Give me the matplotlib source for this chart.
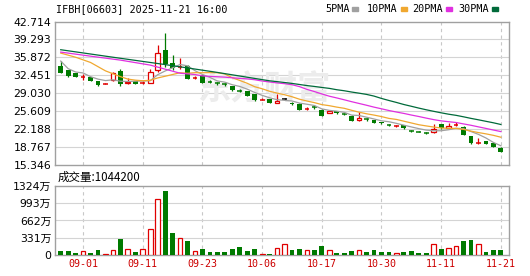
import numpy as np
import pandas as pd
import matplotlib
matplotlib.use('Agg')
import matplotlib.pyplot as plt

# trading days shown (60 sessions)
dates = ['08-27', '08-28', '08-29', '09-01', '09-02', '09-03', '09-04', '09-05', '09-08', '09-09',
         '09-10', '09-11', '09-12', '09-15', '09-16', '09-17', '09-18', '09-19', '09-22', '09-23',
         '09-24', '09-25', '09-26', '09-29', '09-30', '10-02', '10-03', '10-06', '10-08', '10-09',
         '10-10', '10-13', '10-14', '10-15', '10-16', '10-17', '10-20', '10-21', '10-22', '10-23',
         '10-24', '10-27', '10-28', '10-30', '10-31', '11-03', '11-04', '11-05', '11-06', '11-07',
         '11-10', '11-11', '11-12', '11-13', '11-14', '11-17', '11-18', '11-19', '11-20', '11-21']

opens = [34.16, 33.40, 32.88, 32.15, 32.12, 31.31, 30.80, 31.50, 33.21, 31.00,
         31.31, 30.95, 31.06, 33.53, 37.33, 34.86, 34.10, 34.16, 31.95, 32.45,
         31.20, 30.90, 30.70, 30.41, 29.50, 29.41, 28.84, 27.82, 27.88, 27.26,
         27.95, 27.20, 27.07, 26.05, 26.45, 25.93, 25.28, 25.66, 25.05, 24.71,
         23.89, 24.10, 23.89, 23.57, 23.00, 22.70, 22.94, 21.85, 21.72, 21.50,
         21.55, 23.07, 22.31, 23.00, 22.62, 20.85, 19.55, 19.90, 19.46, 18.63]
highs = [35.17, 33.55, 32.95, 32.64, 32.20, 31.40, 30.95, 33.08, 33.72, 31.99,
         31.40, 31.30, 33.59, 38.28, 40.49, 36.25, 35.81, 34.40, 32.30, 32.60,
         31.50, 31.20, 31.00, 30.50, 29.75, 29.50, 28.90, 28.10, 27.95, 28.90,
         28.20, 27.40, 27.10, 26.35, 26.70, 26.00, 25.75, 25.72, 25.25, 24.80,
         25.47, 24.35, 23.95, 23.62, 23.15, 22.90, 23.00, 22.10, 21.80, 21.70,
         23.20, 23.15, 23.40, 23.50, 22.70, 20.90, 20.40, 19.95, 19.50, 18.70]
lows = [32.80, 32.10, 32.05, 31.63, 31.35, 30.45, 30.75, 31.40, 30.49, 30.74,
        30.80, 30.85, 30.95, 33.08, 34.03, 33.40, 33.72, 31.70, 31.80, 30.90,
        30.90, 30.60, 30.45, 29.50, 29.25, 28.45, 27.60, 27.65, 27.20, 27.20,
        27.70, 26.80, 25.85, 25.90, 26.10, 24.60, 25.20, 25.10, 24.80, 23.70,
        23.80, 23.80, 23.40, 23.20, 22.80, 22.60, 22.25, 21.55, 21.55, 21.30,
        21.50, 22.25, 22.25, 22.70, 21.00, 19.40, 19.40, 19.30, 18.78, 17.80]
closes = [32.88, 32.26, 32.12, 32.25, 31.44, 30.55, 30.87, 32.88, 30.87, 31.17,
          30.87, 31.06, 33.08, 36.69, 34.67, 33.91, 34.21, 31.82, 32.05, 31.06,
          31.10, 30.85, 30.65, 29.60, 29.45, 28.51, 27.69, 27.90, 27.26, 27.60,
          27.95, 27.07, 25.93, 26.12, 26.40, 24.71, 25.66, 25.17, 25.00, 23.76,
          24.33, 24.05, 23.45, 23.26, 22.90, 22.78, 22.31, 21.78, 21.65, 21.46,
          22.18, 22.31, 22.75, 23.07, 21.04, 19.46, 19.60, 19.33, 18.82, 17.87]
# volume in 万股
volumes = [76, 76, 44, 76, 44, 96, 19, 96, 306, 115,
           57, 115, 497, 1071, 1230, 421, 325, 268, 76, 115,
           57, 57, 57, 115, 153, 76, 115, 19, 19, 128,
           205, 96, 115, 96, 96, 172, 96, 44, 44, 76,
           96, 63, 96, 51, 51, 32, 63, 76, 44, 44,
           205, 121, 140, 172, 268, 287, 205, 51, 96, 96]

ma_heads = {
    5: {0: 35.17, 1: 33.72, 2: 33.08, 3: 32.90},
    10: {0: 36.69, 2: 35.90, 4: 34.90, 6: 33.30, 8: 32.20},
    20: {0: 36.88, 4: 36.10, 8: 35.35, 12: 34.40, 16: 32.85, 18: 32.60},
    30: {0: 37.33, 7: 35.90, 14: 34.50, 21: 33.00, 28: 31.40},
}
ma_colors = {5: '#a0a0a0', 10: '#f0a830', 20: '#e030e0', 30: '#006a3a'}

price_ticks = [15.346, 18.767, 22.188, 25.609, 29.030, 32.451, 35.872, 39.293, 42.714]
vol_ticks = [0, 331, 662, 993, 1324]
vol_labels = ['0', '331万', '662万', '993万', '1324万']
title = 'IFBH[06603] 2025-11-21 16:00'
last_volume = '成交量:1044200'

RED = '#e00000'
GREEN = '#007a00'
n = len(closes)
x = np.arange(n)
o = np.array(opens); c = np.array(closes); h = np.array(highs); l = np.array(lows)

fig = plt.figure(figsize=(5.30, 2.76), dpi=100)
ax = fig.add_axes([0.1047, 0.4022, 0.8562, 0.5199])
axv = fig.add_axes([0.1047, 0.0761, 0.8562, 0.2500])

tick_pos = x[3::8]
for a in (ax, axv):
    a.set_xlim(-0.7, n + 0.13)
    for s in a.spines.values():
        s.set_color('#a0a0a0')
        s.set_linewidth(1)
    a.set_xticks(tick_pos)
    for t in tick_pos:
        a.axvline(t, color='#c8c8c8', ls=(0, (3, 3)), lw=0.8, zorder=0)
    a.tick_params(length=0, labelsize=7.8, pad=3)

# price panel
ax.set_ylim(price_ticks[0], price_ticks[-1])
ax.set_yticks(price_ticks)
ax.set_yticklabels(['%.3f' % v for v in price_ticks])
for v in price_ticks[1:-1]:
    ax.axhline(v, color='#d4d4d4', lw=0.8, zorder=0)
ax.set_xticklabels([])

ax.text(0.46, 0.52, '东方财富', transform=ax.transAxes, fontsize=24, color='#ececec',
        family=['Noto Sans CJK SC'], fontweight='bold', style='italic',
        ha='center', va='center', zorder=0)

up = c > o
flat = c == o
col = np.where(flat, '#000000', np.where(up, RED, GREEN))
ax.vlines(x, l, h, colors=col, lw=0.9, zorder=2)
w = 0.64
for i in range(n):
    if abs(c[i] - o[i]) < 0.12:
        ax.hlines(o[i], i - w / 2, i + w / 2, colors=col[i], lw=1.1, zorder=3)
    elif up[i]:
        ax.bar(i, c[i] - o[i], bottom=o[i], width=w, facecolor='white',
               edgecolor=RED, lw=0.9, zorder=3)
    else:
        ax.bar(i, o[i] - c[i], bottom=c[i], width=w, color=GREEN, lw=0, zorder=3)

cs = pd.Series(closes)
for k in (5, 10, 20, 30):
    ma = cs.rolling(k).mean()
    for i, v in ma_heads[k].items():
        ma[i] = v
    ma = ma.dropna()
    ax.plot(ma.index, ma.values, color=ma_colors[k], lw=0.9, zorder=4)

# volume panel
axv.set_ylim(0, vol_ticks[-1])
axv.set_yticks(vol_ticks)
axv.set_yticklabels(vol_labels, family=['DejaVu Sans', 'Noto Sans CJK SC'])
for v in vol_ticks[1:-1]:
    axv.axhline(v, color='#d4d4d4', lw=0.8, zorder=0)
axv.set_xticklabels([dates[i] for i in tick_pos], family='DejaVu Sans Mono',
                    color='#cc0000', fontsize=7.2)
vol_up = c >= o
for i in range(n):
    if vol_up[i]:
        axv.bar(i, volumes[i], width=w, facecolor='white', edgecolor=RED, lw=0.9, zorder=3)
    else:
        axv.bar(i, volumes[i], width=w, color=GREEN, lw=0, zorder=3)

# header texts
fig.text(56 / 530, 1 - 9 / 276, title, family='DejaVu Sans Mono', fontsize=7.3,
         va='center', ha='left')
items = [('5PMA', 325, 5), ('10PMA', 367, 10), ('20PMA', 412, 20), ('30PMA', 458, 30)]
for label, px, k in items:
    t = fig.text(px / 530, 1 - 9 / 276, label, family='DejaVu Sans Mono', fontsize=7.3,
                 va='center', ha='left')
    sx = px + 6.1 * len(label) + 3
    fig.patches.append(plt.Rectangle((sx / 530, 1 - 10.5 / 276), 6 / 530, 3 / 276,
                                     transform=fig.transFigure, color=ma_colors[k]))
fig.text(58 / 530, 1 - 177 / 276, last_volume, family=['Noto Sans CJK SC'], fontsize=8.3,
         va='center', ha='left')

fig.savefig('out.png', dpi=100)
